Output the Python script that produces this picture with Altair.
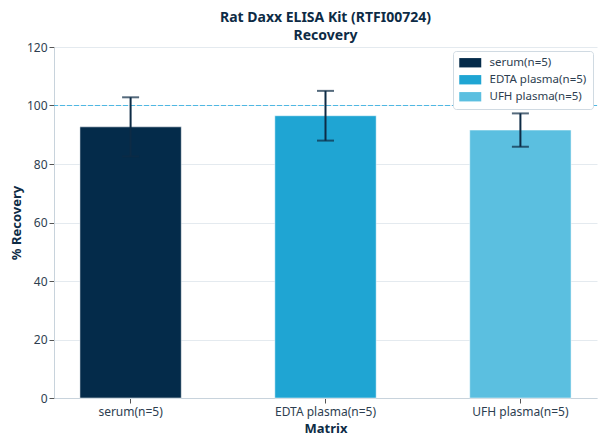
import altair as alt
import pandas as pd

categories = ["serum(n=5)", "EDTA plasma(n=5)", "UFH plasma(n=5)"]
means = [92.7, 96.5, 91.6]
sds = [10.1, 8.5, 5.7]
colors = ["#042b4a", "#1fa5d3", "#5bbfe0"]

df = pd.DataFrame({"Matrix": categories, "mean": means, "sd": sds})
df["lo"] = df["mean"] - df["sd"]
df["hi"] = df["mean"] + df["sd"]

font = "Noto Sans"
navy = "#0d2b45"

x = alt.X("Matrix:N", sort=categories, title="Matrix",
          scale=alt.Scale(paddingInner=0.48, paddingOuter=0.133),
          axis=alt.Axis(labelAngle=0, labelFontSize=12, titleFontSize=13,
                        titleFontWeight="bold", labelColor="#2d3e50",
                        titleColor=navy, domainColor="#c8d3dc", tickColor="#555",
                        tickSize=5, grid=False, labelPadding=3, titlePadding=5))

y_scale = alt.Scale(domain=[0, 120])

bars = alt.Chart(df).mark_bar(stroke="#ffffff", strokeWidth=0.5).encode(
    x=x,
    y=alt.Y("mean:Q", scale=y_scale, title="% Recovery",
            axis=alt.Axis(values=[0, 20, 40, 60, 80, 100, 120], labelFontSize=12,
                          titleFontSize=13, titleFontWeight="bold",
                          labelColor="#2d3e50", titleColor=navy,
                          domainColor="#c8d3dc", tickColor="#555", tickSize=5,
                          labelPadding=2,
                          gridColor="#e4eaef", titlePadding=3)),
    color=alt.Color("Matrix:N", sort=categories,
                    scale=alt.Scale(domain=categories, range=colors),
                    legend=alt.Legend(title=None, orient="top-right",
                                      fillColor="white", strokeColor="#d0dae2",
                                      cornerRadius=3, padding=6,
                                      symbolType="M-1,-0.85H3V0.85H-1Z",
                                      symbolSize=121, symbolStrokeWidth=0,
                                      labelOffset=19,
                                      labelFontSize=11.5, labelColor="#2d3e50",
                                      rowPadding=4, offset=4, zindex=2)),
)

err = alt.Chart(df).mark_rule(color=navy, strokeWidth=2).encode(
    x=alt.X("Matrix:N", sort=categories),
    y=alt.Y("lo:Q", scale=y_scale),
    y2="hi:Q",
)
cap_hi = alt.Chart(df).mark_tick(color=navy, thickness=2, size=17, orient="horizontal").encode(
    x=alt.X("Matrix:N", sort=categories),
    y=alt.Y("hi:Q", scale=y_scale),
)
cap_lo = alt.Chart(df).mark_tick(color=navy, thickness=2, size=17, orient="horizontal").encode(
    x=alt.X("Matrix:N", sort=categories),
    y=alt.Y("lo:Q", scale=y_scale),
)

ref = alt.Chart(pd.DataFrame({"v": [100]})).mark_rule(
    strokeDash=[5, 2], strokeWidth=1.2
).encode(y=alt.Y("v:Q", scale=y_scale), color=alt.value("#4fb8e3"))

chart = alt.layer(bars, ref, err, cap_hi, cap_lo).properties(
    width=592, height=428,
    autosize=alt.AutoSizeParams(type="fit", contains="padding"),
    padding={"left": 2, "top": 3, "right": 2, "bottom": 1},
    title=alt.TitleParams(text="Rat Daxx ELISA Kit (RTFI00724)", subtitle="Recovery",
                          fontSize=14, fontWeight="bold", color=navy, font=font,
                          subtitleFontSize=14, subtitleFontWeight="bold",
                          subtitleColor=navy, subtitleFont=font, subtitlePadding=4,
                          anchor="middle", offset=-2),
).configure(font=font).configure_view(stroke=None).configure_axis(
    labelFont=font, titleFont=font
).configure_legend(labelFont=font)

chart.save("out.html", embed_options={"renderer": "svg", "actions": False})
